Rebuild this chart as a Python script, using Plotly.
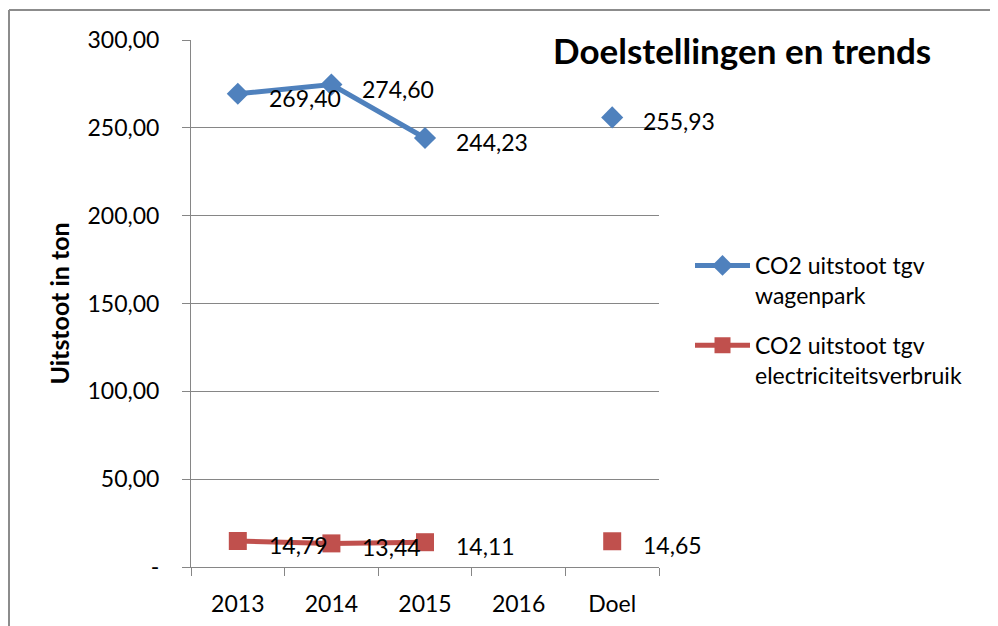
import plotly.graph_objects as go

categories = ["2013", "2014", "2015", "2016", "Doel"]
wagenpark = [269.40, 274.60, 244.23, None, 255.93]
electriciteit = [14.79, 13.44, 14.11, None, 14.65]
y_tickvals = [0, 50, 100, 150, 200, 250, 300]
y_ticktext = ["-", "50,00", "100,00", "150,00", "200,00", "250,00", "300,00"]

series_names = ["CO2 uitstoot tgv<br>wagenpark", "CO2 uitstoot tgv<br>electriciteitsverbruik"]
blue = "#4F81BD"
red = "#C0504D"
FONT = "Lato"
FS = 23

W, H = 998, 626
OFF = 8  # page body margin
# desired plot area in page pixels: x 191..659, y 40..567
L, T = 191 - OFF, 40 - OFF
pw, ph = 468, 527
R, B = W - L - pw, H - T - ph

def px(xp):
    return (xp - OFF - L) / pw

def py(yp):
    return 1 - (yp - OFF - T) / ph

fig = go.Figure()
fig.add_trace(go.Scatter(
    x=categories, y=wagenpark, name=series_names[0], mode="lines+markers",
    line=dict(color=blue, width=5), marker=dict(symbol="diamond", size=17, color=blue),
    connectgaps=False, legendgroup="a"))
fig.add_trace(go.Scatter(
    x=categories, y=electriciteit, name=series_names[1], mode="lines+markers",
    line=dict(color=red, width=5), marker=dict(symbol="square", size=18, color=red),
    connectgaps=False, legendgroup="b"))

def fmt(v):
    return f"{v:.2f}".replace(".", ",")

annotations = []
for series in (wagenpark, electriciteit):
    for i, v in enumerate(series):
        if v is None:
            continue
        annotations.append(dict(
            x=i, y=v, xref="x", yref="y", text=fmt(v), showarrow=False,
            xanchor="left", yanchor="middle", xshift=29, yshift=-4,
            font=dict(family=FONT, size=FS, color="black")))

shapes = [
    dict(type="line", xref="paper", yref="paper",
         x0=px(9), x1=px(W + 20), y0=py(10), y1=py(10),
         line=dict(color="#8c8c8c", width=2)),
    dict(type="line", xref="paper", yref="paper",
         x0=px(9), x1=px(9), y0=py(10), y1=py(H + 20),
         line=dict(color="#8c8c8c", width=2)),
]

fig.update_layout(
    width=W, height=H,
    margin=dict(l=L, r=R, t=T, b=B, autoexpand=False),
    paper_bgcolor="white", plot_bgcolor="white",
    font=dict(family=FONT, size=FS, color="black"),
    title=dict(text="<b>Doelstellingen en trends</b>", font=dict(family=FONT, size=35, color="black"),
               x=(553 - OFF) / W, xanchor="left", xref="container",
               y=1 - (52 - OFF) / H, yanchor="middle", yref="container"),
    xaxis=dict(type="category", range=[-0.5, 4.5], autorange=False,
               showline=True, linecolor="#868686", linewidth=1,
               ticks="outside", ticklen=8, tickcolor="#868686", tickson="boundaries",
               showgrid=False, tickfont=dict(size=FS), tickangle=0, ticklabelstandoff=16,
               automargin=False),
    yaxis=dict(range=[0, 300], autorange=False, tickvals=y_tickvals, ticktext=y_ticktext,
               showline=True, linecolor="#868686", linewidth=1,
               ticks="outside", ticklen=8, tickcolor="#868686",
               showgrid=True, gridcolor="#868686", gridwidth=1, zeroline=False,
               tickfont=dict(size=FS), ticklabelstandoff=18,
               title=dict(text="<b>Uitstoot in ton</b>", font=dict(size=25), standoff=10),
               automargin=False),
    legend=dict(x=px(690), xanchor="left", y=py(244), yanchor="top",
                font=dict(size=FS), valign="top", tracegroupgap=17, itemwidth=55,
                bgcolor="rgba(0,0,0,0)"),
    annotations=annotations,
    shapes=shapes,
    showlegend=True,
)

fig.write_html("out.html")
